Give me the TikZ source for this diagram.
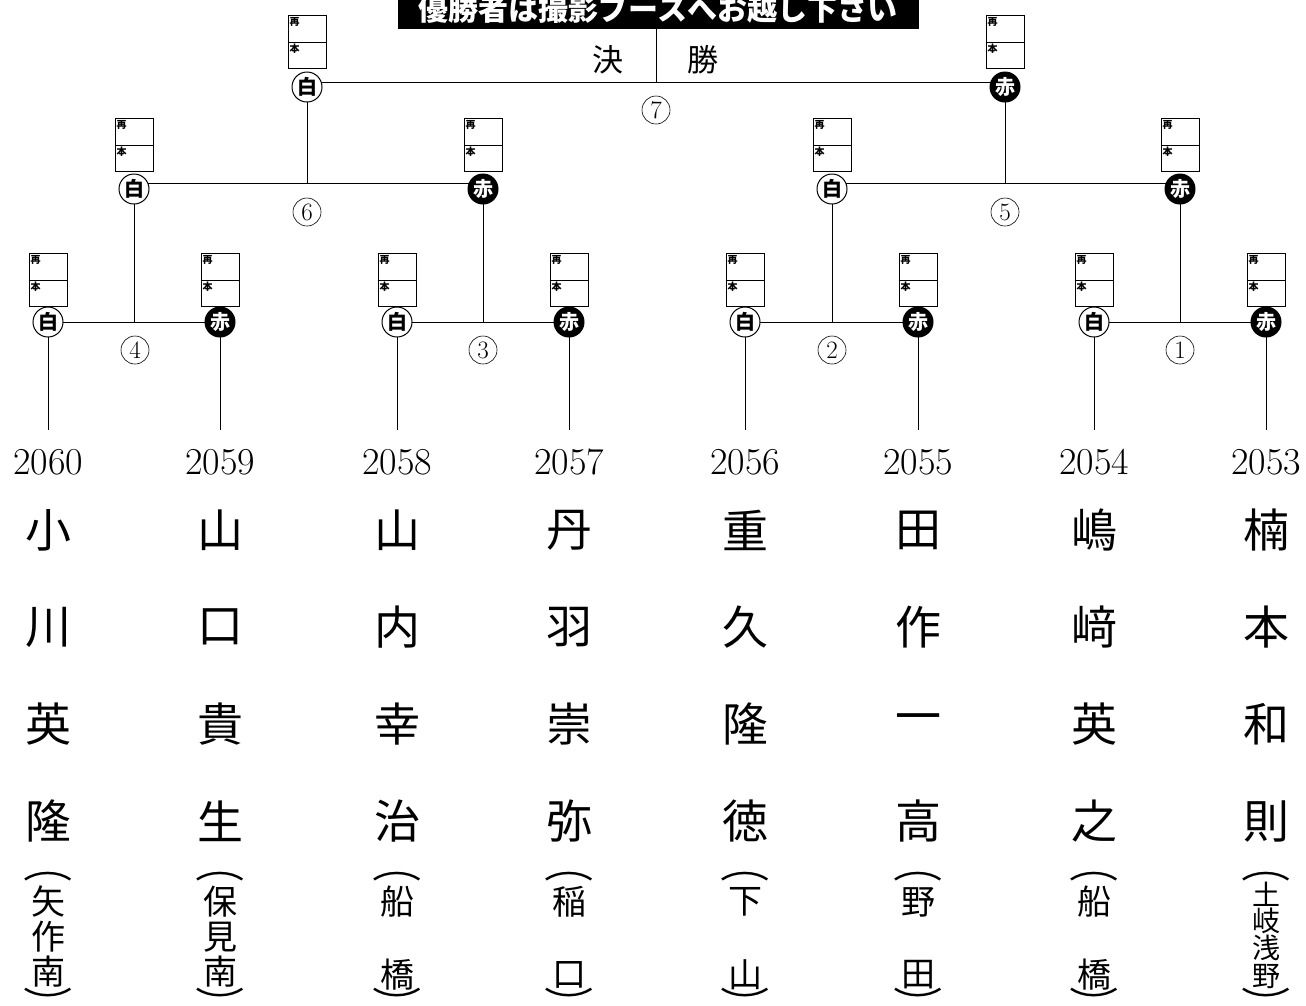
\documentclass[tikz,border=0pt]{standalone}
\usepackage{fontspec}
\newfontfamily\cjk{Noto Sans CJK JP}
\usetikzlibrary{backgrounds}
\newcommand\scorebx[3]{%
  \node[sbox] (#1) at (#2,#3) {};
  \draw[line width=0.8pt] (#1.west) -- (#1.east);
  \node[sl] at (#1.north west) {再};
  \node[sl] at (#1.west) {本};
}
\begin{document}
\begin{tikzpicture}[x=1pt,y=-1pt,line width=1pt,
  wc/.style={circle,draw,fill=white,minimum size=30pt,inner sep=0pt,font=\cjk\bfseries\fontsize{20}{20}\selectfont},
  rc/.style={circle,draw,fill=black,text=white,minimum size=30pt,inner sep=0pt,font=\cjk\bfseries\fontsize{20}{20}\selectfont},
  sbox/.style={draw,fill=white,minimum width=38pt,minimum height=53pt,inner sep=0pt,anchor=north,line width=0.8pt},
  sl/.style={anchor=north west,inner xsep=1.5pt,inner ysep=1.5pt,font=\cjk\bfseries\fontsize{10}{10}\selectfont},
  rnd/.style={circle,draw,line width=0.6pt,minimum size=28pt,inner sep=0pt,font=\fontsize{25}{25}\selectfont},
  idn/.style={font=\fontsize{38}{38}\selectfont},
  nm/.style={font=\cjk\fontsize{46}{46}\selectfont,inner sep=0pt},
  sc/.style={font=\cjk\fontsize{34}{34}\selectfont,inner sep=0pt},
  par/.style={font=\cjk\fontsize{34}{34}\selectfont,inner sep=0pt,xscale=1.45},
  scs/.style={font=\cjk\fontsize{28}{28}\selectfont,inner sep=0pt},
  hd/.style={font=\cjk\fontsize{31}{31}\selectfont},
]
\useasboundingbox (0,0) rectangle (1306,1005);
\begin{scope}
\clip (0,0) rectangle (1306,1005);
\node[fill=black,text=white,minimum width=521pt,minimum height=40pt,inner sep=0pt,anchor=south west,
  font=\cjk\bfseries\fontsize{30}{30}\selectfont] (title) at (397,29) {優勝者は撮影ブースへお越し下さい};
\end{scope}
\node[hd] (ke) at (608,60) {決};
\node[hd] (sho) at (703,60) {勝};

% circles
\node[wc] (w4) at (48,322) {白};
\node[rc] (r4) at (220,322) {赤};
\node[wc] (w3) at (397,322) {白};
\node[rc] (r3) at (569,322) {赤};
\node[wc] (w2) at (745,322) {白};
\node[rc] (r2) at (918,322) {赤};
\node[wc] (w1) at (1094,322) {白};
\node[rc] (r1) at (1266,322) {赤};
\node[wc] (w6) at (134,189) {白};
\node[rc] (r6) at (483,189) {赤};
\node[wc] (w5) at (832,189) {白};
\node[rc] (r5) at (1180,189) {赤};
\node[wc] (w7) at (307,87) {白};
\node[rc] (r7) at (1005,87) {赤};

% score boxes
\scorebx{b1}{48}{253}
\scorebx{b2}{220}{253}
\scorebx{b3}{397}{253}
\scorebx{b4}{569}{253}
\scorebx{b5}{745}{253}
\scorebx{b6}{918}{253}
\scorebx{b7}{1094}{253}
\scorebx{b8}{1266}{253}
\scorebx{b9}{134}{118}
\scorebx{b10}{483}{118}
\scorebx{b11}{832}{118}
\scorebx{b12}{1180}{118}
\scorebx{b13}{307}{15}
\scorebx{b14}{1005}{15}

% match numbers
\node[rnd] (n4) at (135,350) {4};
\node[rnd] (n3) at (483,350) {3};
\node[rnd] (n2) at (832,350) {2};
\node[rnd] (n1) at (1180,350) {1};
\node[rnd] (n6) at (307,212) {6};
\node[rnd] (n5) at (1005,212) {5};
\node[rnd] (n7) at (656,110) {7};

% junctions and ends
\coordinate (m4) at (134,322);
\coordinate (m3) at (483,322);
\coordinate (m2) at (832,322);
\coordinate (m1) at (1180,322);
\coordinate (m6) at (307,183);
\coordinate (m5) at (1005,183);
\coordinate (m7) at (656,82);

% entrants
\foreach \x/\num/\a/\b/\c/\d [count=\i] in {48/2060/小/川/英/隆, 220/2059/山/口/貴/生, 397/2058/山/内/幸/治, 569/2057/丹/羽/崇/弥, 745/2056/重/久/隆/徳, 918/2055/田/作/一/高, 1094/2054/嶋/﨑/英/之, 1266/2053/楠/本/和/則}{
  \node[idn] (id\i) at (\x,462) {\num};
  \coordinate (e\i) at (\x,430);
  \node[nm] (na\i) at (\x,530) {\a};
  \node[nm] (nb\i) at (\x,627) {\b};
  \node[nm] (nc\i) at (\x,724) {\c};
  \node[nm] (nd\i) at (\x,821) {\d};
  \node[par] (po\i) at (\x,877) {︵};
  \node[par] (pc\i) at (\x,1002) {︶};
}
% affiliations
\node[sc] at (48,902) {矢};
\node[sc] at (48,937) {作};
\node[sc] at (48,972) {南};
\node[sc] at (220,902) {保};
\node[sc] at (220,937) {見};
\node[sc] at (220,972) {南};
\node[sc] at (397,902) {船};
\node[sc] at (397,975) {橋};
\node[sc] at (569,902) {稲};
\node[sc] at (569,975) {口};
\node[sc] at (745,902) {下};
\node[sc] at (745,975) {山};
\node[sc] at (918,902) {野};
\node[sc] at (918,975) {田};
\node[sc] at (1094,902) {船};
\node[sc] at (1094,975) {橋};
\node[scs] at (1266,894) {土};
\node[scs] at (1266,921) {岐};
\node[scs] at (1266,948) {浅};
\node[scs] at (1266,976) {野};

\begin{pgfonlayer}{background}
\draw (w4.center) -- (r4.center);
\draw (w3.center) -- (r3.center);
\draw (w2.center) -- (r2.center);
\draw (w1.center) -- (r1.center);
\draw ([yshift=6pt]w6.center) -- ([yshift=6pt]r6.center);
\draw ([yshift=6pt]w5.center) -- ([yshift=6pt]r5.center);
\draw ([yshift=5pt]w7.center) -- ([yshift=5pt]r7.center);
\draw (m4) -- (w6.center);
\draw (m3) -- (r6.center);
\draw (m2) -- (w5.center);
\draw (m1) -- (r5.center);
\draw (m6) -- (w7.center);
\draw (m5) -- (r7.center);
\draw (m7) -- (m7 |- title.south);
\draw (w4.center) -- (e1);
\draw (r4.center) -- (e2);
\draw (w3.center) -- (e3);
\draw (r3.center) -- (e4);
\draw (w2.center) -- (e5);
\draw (r2.center) -- (e6);
\draw (w1.center) -- (e7);
\draw (r1.center) -- (e8);
\end{pgfonlayer}
\end{tikzpicture}
\end{document}
